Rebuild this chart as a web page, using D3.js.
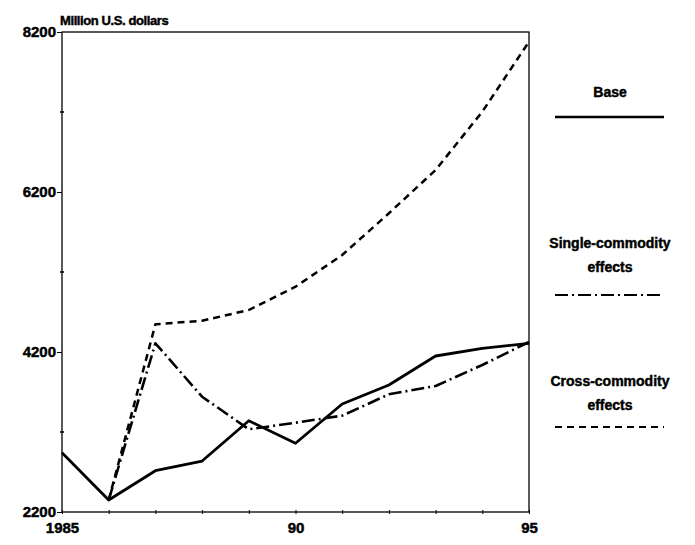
<!DOCTYPE html>
<html>
<head>
<meta charset="utf-8">
<script src="https://cdn.jsdelivr.net/npm/d3@7"></script>
<style>
  body { margin: 0; background: #fff; }
  text { font-family: "Liberation Sans", Arial, sans-serif; font-weight: bold; fill: #000;
         stroke: #000; stroke-width: 0.45px; }
</style>
</head>
<body>
<div id="chart"></div>
<script>
// years on x axis
var years = [1985, 1986, 1987, 1988, 1989, 1990, 1991, 1992, 1993, 1994, 1995];

// million U.S. dollars
var baseValues   = [2940, 2350, 2716, 2837, 3341, 3059, 3550, 3787, 4150, 4246, 4309];
var singleValues = [null, 2350, 4309, 3641, 3234, 3316, 3404, 3671, 3775, 4038, 4325];
var crossValues  = [null, 2350, 4546, 4591, 4725, 5016, 5412, 5934, 6475, 7204, 8079];

var yTicks = [2200, 4200, 6200, 8200];
var yMinorTicks = [3200, 5200, 7200];
var xTickLabels = { 1985: "1985", 1990: "90", 1995: "95" };

var series = [
  { name: ["Base"], values: baseValues, dash: null, width: 2.8 },
  { name: ["Single-commodity", "effects"], values: singleValues, dash: "13,4,2,4", width: 2.6 },
  { name: ["Cross-commodity", "effects"], values: crossValues, dash: "7,5", width: 2.5 }
];

var W = 695, H = 545;
var svg = d3.select("#chart").append("svg").attr("width", W).attr("height", H);

var x = d3.scaleLinear().domain([1985, 1995]).range([62, 529]);
var y = d3.scaleLinear().domain([2200, 8200]).range([512, 32]);

// frame
svg.append("rect")
  .attr("x", x(1985)).attr("y", y(8200))
  .attr("width", x(1995) - x(1985)).attr("height", y(2200) - y(8200))
  .attr("fill", "none").attr("stroke", "#000").attr("stroke-width", 1.3);

// y axis
var yAxis = d3.axisLeft(y).tickValues(yTicks).tickSize(5).tickPadding(1)
  .tickFormat(d3.format("d"));
var gy = svg.append("g").attr("transform", "translate(" + x(1985) + ",0)").call(yAxis);
gy.select(".domain").remove();
gy.selectAll("text").style("font-size", "15px");

svg.append("g").selectAll("line").data(yMinorTicks).enter().append("line")
  .attr("x1", x(1985) - 2).attr("x2", x(1985) + 2)
  .attr("y1", function (d) { return y(d); }).attr("y2", function (d) { return y(d); })
  .attr("stroke", "#000").attr("stroke-width", 1.5);

// x axis
var xAxis = d3.axisBottom(x).tickValues(years).tickSize(4).tickPadding(6)
  .tickFormat(function (d) { return xTickLabels[d] || ""; });
var gx = svg.append("g").attr("transform", "translate(0," + y(2200) + ")").call(xAxis);
gx.select(".domain").remove();
gx.selectAll("text").style("font-size", "15px");
gx.selectAll("line").attr("transform", "translate(0,-2)");

// axis title
svg.append("text").attr("x", 60).attr("y", 25)
  .style("font-size", "13px").style("letter-spacing", "-0.4px")
  .text("Million U.S. dollars");

// lines
var line = d3.line()
  .defined(function (d) { return d.v !== null; })
  .x(function (d) { return x(d.year); })
  .y(function (d) { return y(d.v); });

series.forEach(function (s) {
  var pts = years.map(function (yr, i) { return { year: yr, v: s.values[i] }; });
  svg.append("path").datum(pts)
    .attr("d", line)
    .attr("fill", "none")
    .attr("stroke", "#000")
    .attr("stroke-width", s.width)
    .attr("stroke-linejoin", "round")
    .attr("stroke-dasharray", s.dash);
});

// legend
var legendPos = [
  { textY: 97, lineY: 117 },
  { textY: 248, lineY: 295 },
  { textY: 386, lineY: 427 }
];
series.forEach(function (s, i) {
  var p = legendPos[i];
  s.name.forEach(function (t, j) {
    svg.append("text").attr("x", 610).attr("y", p.textY + j * 24)
      .attr("text-anchor", "middle").style("font-size", "14px")
      .text(t);
  });
  svg.append("line")
    .attr("x1", 555).attr("x2", 664)
    .attr("y1", p.lineY).attr("y2", p.lineY)
    .attr("stroke", "#000").attr("stroke-width", i == 0 ? 2.4 : 1.8)
    .attr("stroke-dasharray", s.dash);
});
</script>
</body>
</html>
